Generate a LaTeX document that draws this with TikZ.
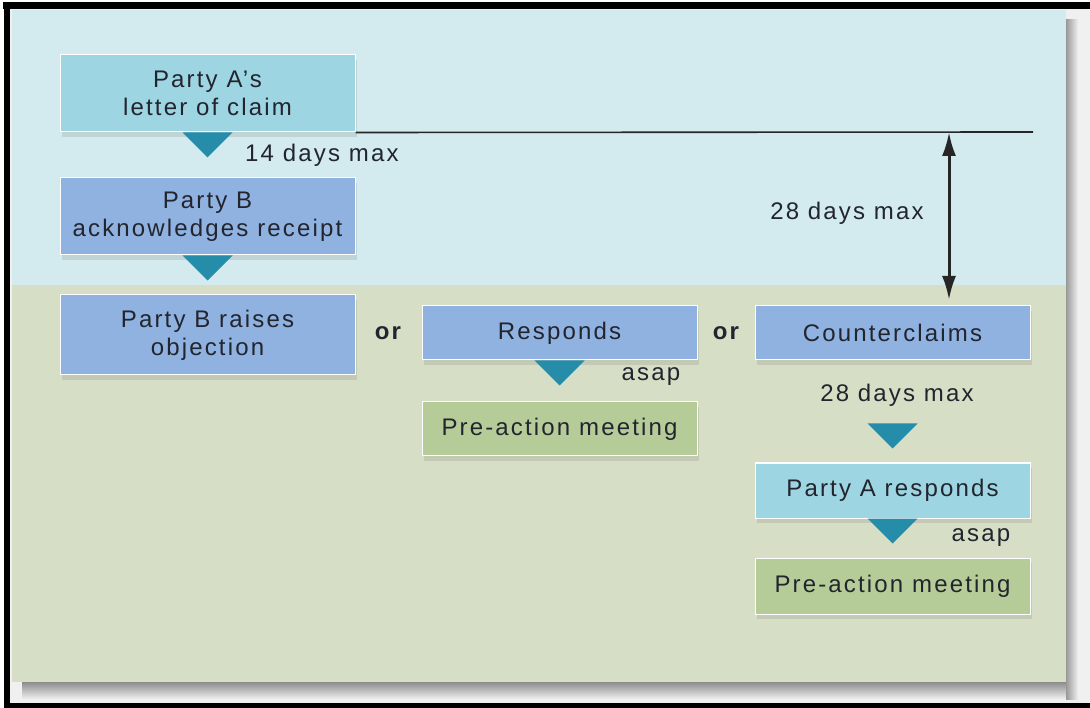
\documentclass[tikz,border=0pt]{standalone}
\usepackage{fontspec}
\setmainfont{Liberation Sans}[LetterSpace=9]
\usetikzlibrary{arrows.meta,calc,shadows}

\definecolor{skyback}{RGB}{211,235,238}
\definecolor{sageback}{RGB}{214,222,197}
\definecolor{cyanbox}{RGB}{157,213,226}
\definecolor{bluebox}{RGB}{143,178,224}
\definecolor{greenbox}{RGB}{182,204,152}
\definecolor{tealtri}{RGB}{37,140,170}
\definecolor{ink}{RGB}{34,36,46}

\tikzset{
  stage/.style={draw=white, line width=1pt, align=center, text=ink,
    font=\fontsize{24}{28}\selectfont, inner sep=0pt,
    drop shadow={shadow xshift=2pt, shadow yshift=-5pt, opacity=0.22}},
  wide/.style={stage, minimum width=295pt, minimum height=77pt},
  narrow/.style={stage, minimum width=275pt, minimum height=54pt},
  note/.style={text=ink, font=\fontsize{24}{28}\selectfont, inner sep=0pt},
}

% fallender Dreieckspfeil unter einem Punkt
\newcommand\droptri[1]{\fill[tealtri] ($#1+(-25,0)$) -- ($#1+(25,0)$) -- ($#1+(0,25)$) -- cycle;}

\begin{document}
\begin{tikzpicture}[x=1pt,y=-1pt,>=Latex]
  \useasboundingbox (0,0) rectangle (1090,708);

  % ================= Rahmen und Hintergrund =================
  \fill[white] (0,0) rectangle (1090,708);
  \fill[black!6] (10,9) rectangle (1090,703);
  \fill[black] (3,2) rectangle (1090,9);
  \fill[black] (4,2) rectangle (10,708);
  \fill[black] (4,703) rectangle (1090,708);
  \shade[top color=black!45, bottom color=black!6] (22,682) rectangle (1077,699);
  \shade[left color=black!40, right color=black!6] (1066,20) rectangle (1078,699);
  \fill[skyback] (12,10) rectangle (1066,285);
  \fill[sageback] (12,285) rectangle (1066,682);

  % ================= linke Spalte =================
  \node[wide, fill=cyanbox] (claimA) at (207.5,93.5) {Party A’s\\letter of claim};
  \node[wide, fill=bluebox] (ackB) at (207.5,216.5) {Party B\\acknowledges receipt};
  \node[wide, fill=bluebox, minimum height=80pt] (objB) at (207.5,335) {Party B raises\\objection};
  \droptri{(claimA.south)}
  \droptri{(ackB.south)}
  \node[note, anchor=west] (days14) at (245,155) {14 days max};

  % ================= mittlere Spalte =================
  \node[note, font=\fontsize{24}{28}\selectfont\bfseries] (orA) at (388,333) {or};
  \node[narrow, fill=bluebox] (resp) at (559.5,333) {Responds};
  \node[narrow, fill=greenbox] (meetA) at (559.5,429) {Pre-action meeting};
  \droptri{(resp.south)}
  \node[note] (asapA) at (651,377) {asap};

  % ================= rechte Spalte =================
  \node[note, font=\fontsize{24}{28}\selectfont\bfseries] (orB) at (726,333) {or};
  \node[narrow, fill=bluebox] (counter) at (892.5,333) {Counterclaims};
  \node[note] (days28b) at (897,395) {28 days max};
  \node[narrow, fill=cyanbox, minimum height=55pt] (respA) at (892.5,490.5) {Party A responds};
  \node[narrow, fill=greenbox, minimum height=56pt] (meetB) at (892.5,586) {Pre-action meeting};
  \droptri{($(respA.north)+(0,-39)$)}
  \droptri{(respA.south)}
  \node[note] (asapB) at (981,538) {asap};

  % ================= Frist 28 Tage =================
  \coordinate (limR) at (1033,132);
  \coordinate (top28) at (949,132);
  \coordinate (bot28) at (949,300);
  \draw[line width=1.6pt, black!85] (claimA.south east) -- (limR);
  \draw[line width=3pt, black!85, {Latex[length=24pt,width=14pt]}-{Latex[length=24pt,width=14pt]}] (top28) -- (bot28);
  \node[note] (days28a) at (847,213) {28 days max};
\end{tikzpicture}
\end{document}
